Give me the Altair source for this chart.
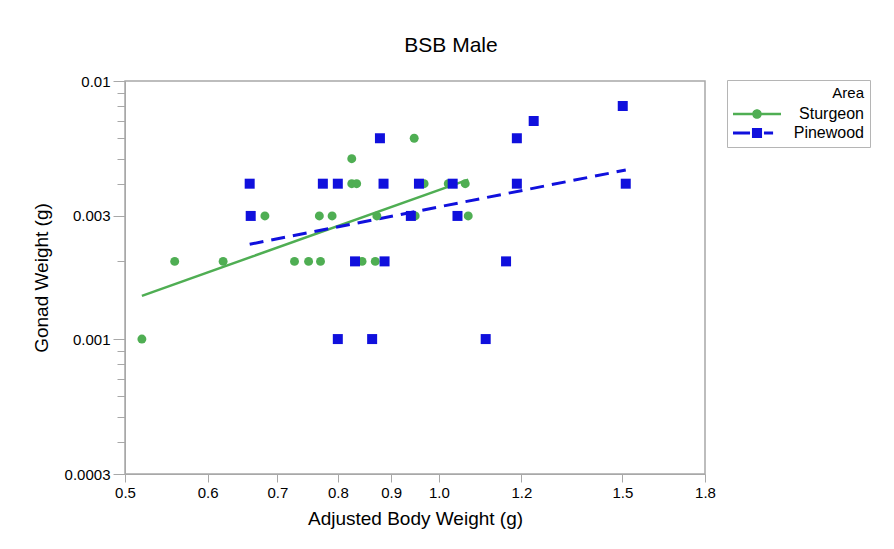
import altair as alt
import pandas as pd

GREEN = "#4FAE53"
BLUE = "#1010DD"

# Sturgeon (green circles)
stur_x = [0.519, 0.558, 0.621, 0.681, 0.727, 0.750, 0.768, 0.770, 0.790, 0.825, 0.825,
          0.834, 0.844, 0.869, 0.872, 0.947, 0.949, 0.968, 1.021, 1.060, 1.067]
stur_y = [0.001, 0.002, 0.002, 0.003, 0.002, 0.002, 0.003, 0.002, 0.003, 0.005, 0.004,
          0.004, 0.002, 0.002, 0.003, 0.006, 0.003, 0.004, 0.004, 0.004, 0.003]

# Pinewood (blue squares)
pine_x = [0.6585, 0.660, 0.774, 0.800, 0.800, 0.831, 0.863, 0.878, 0.885, 0.887, 0.940,
          0.957, 1.031, 1.042, 1.109, 1.160, 1.188, 1.188, 1.233, 1.501, 1.511]
pine_y = [0.004, 0.003, 0.004, 0.004, 0.001, 0.002, 0.001, 0.006, 0.004, 0.002, 0.003,
          0.004, 0.004, 0.003, 0.001, 0.002, 0.006, 0.004, 0.007, 0.008, 0.004]

# Fitted lines (endpoints)
fit_stur_x = [0.519, 1.067]
fit_stur_y = [0.00147, 0.00415]
fit_pine_x = [0.6585, 1.511]
fit_pine_y = [0.00233, 0.00452]

areas = ["Sturgeon", "Pinewood"]
x_ticks = [0.5, 0.6, 0.7, 0.8, 0.9, 1.0, 1.2, 1.5, 1.8]
y_ticks = [0.0003, 0.0004, 0.0005, 0.0006, 0.0007, 0.0008, 0.0009, 0.001,
           0.002, 0.003, 0.004, 0.005, 0.006, 0.007, 0.008, 0.009, 0.01]
y_labeled = [0.0003, 0.001, 0.003, 0.01]

stur = pd.DataFrame({"x": stur_x, "y": stur_y, "Area": "Sturgeon"})
pine = pd.DataFrame({"x": pine_x, "y": pine_y, "Area": "Pinewood"})
allpts = pd.concat([stur, pine], ignore_index=True)
fit_s = pd.DataFrame({"x": fit_stur_x, "y": fit_stur_y})
fit_p = pd.DataFrame({"x": fit_pine_x, "y": fit_pine_y})

label_test = " || ".join(f"datum.value == {v}" for v in y_labeled)

xs = alt.Scale(type="log", domain=[0.5, 1.8], nice=False)
ys = alt.Scale(type="log", domain=[0.0003, 0.01], nice=False)

X = alt.X("x:Q", scale=xs, axis=alt.Axis(values=x_ticks, format=".1f", tickSize=8,
                                          title="Adjusted Body Weight (g)"))
Y = alt.Y("y:Q", scale=ys, axis=alt.Axis(
    values=y_ticks, format="~g",
    labelExpr=f"({label_test}) ? datum.label : ''",
    tickSize={"condition": {"test": label_test, "value": 12}, "value": 8},
    title="Gonad Weight (g)"))

line_s = alt.Chart(fit_s).mark_line(color=GREEN, strokeWidth=2.5).encode(x=X, y=Y)
line_p = alt.Chart(fit_p).mark_line(color=BLUE, strokeWidth=3, strokeDash=[14, 8]).encode(x=X, y=Y)
pts_s = alt.Chart(stur).mark_circle(color=GREEN, size=80, opacity=1).encode(x=X, y=Y)
pts_p = alt.Chart(pine).mark_square(color=BLUE, size=100, opacity=1).encode(x=X, y=Y)

path_s = ("M-1,-0.052L-0.19,-0.052L-0.19,0.052L-1,0.052Z "
          "M0.19,-0.052L1,-0.052L1,0.052L0.19,0.052Z "
          "M-0.2,0A0.2,0.2,0,1,1,0.2,0A0.2,0.2,0,1,1,-0.2,0Z")
path_p = ("M-1,-0.0625L-0.29,-0.0625L-0.29,0.0625L-1,0.0625Z "
          "M-0.21,-0.21L0.21,-0.21L0.21,0.21L-0.21,0.21Z "
          "M0.29,-0.0625L0.67,-0.0625L0.67,0.0625L0.29,0.0625Z")

legend_layer = alt.Chart(allpts).mark_point(filled=True).encode(
    x=X, y=Y,
    color=alt.Color("Area:N", scale=alt.Scale(domain=areas, range=[GREEN, BLUE]), title="Area"),
    shape=alt.Shape("Area:N", scale=alt.Scale(domain=areas, range=[path_s, path_p]), title="Area"),
    opacity=alt.value(0),
    size=alt.value(2304),
)

chart = alt.layer(line_s, line_p, pts_s, pts_p, legend_layer).properties(
    width=580, height=393,
    autosize=alt.AutoSizeParams(type="none"),
    padding={"left": 117, "top": 73, "right": 180, "bottom": 67},
    title=alt.Title("BSB Male", fontSize=21, fontWeight="normal", anchor="middle",
                    offset=18, dx=36, color="black"),
).configure(font="Liberation Sans").configure_view(
    stroke="#a8a8a8", strokeWidth=1.5
).configure_axis(
    grid=False, domainColor="#a8a8a8", tickColor="#a8a8a8",
    labelFontSize=15, labelColor="black", labelPadding=3, labelFlush=False,
    titleFontSize=19, titleFontWeight="normal", titleColor="black",
).configure_axisX(titlePadding=9).configure_axisY(titlePadding=13).configure_legend(
    orient="none", legendX=602, legendY=-1, padding=6, strokeColor="#b5b5b5", fillColor="white",
    titleFontSize=15, titleFontWeight="normal", titleColor="black", titleAnchor="end",
    labelFontSize=16, labelColor="black", labelAlign="right", labelOffset=83,
    symbolSize=2304, symbolOpacity=1, symbolStrokeWidth=0, rowPadding=3, titlePadding=5,
    clipHeight=16,
)

chart.save("out.html", embed_options={"renderer": "svg", "actions": False})
